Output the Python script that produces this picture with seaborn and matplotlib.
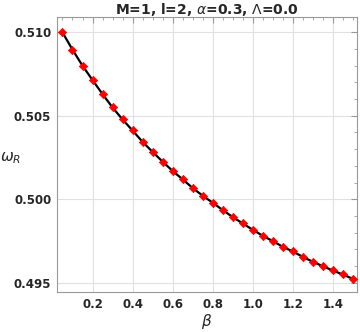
import numpy as np
import matplotlib
matplotlib.use("Agg")
import matplotlib.pyplot as plt
import seaborn as sns
from matplotlib.ticker import MultipleLocator, FormatStrFormatter

# Data
beta = [0.05, 0.10, 0.15, 0.20, 0.25, 0.30, 0.35, 0.40, 0.45, 0.50,
        0.55, 0.60, 0.65, 0.70, 0.75, 0.80, 0.85, 0.90, 0.95, 1.00,
        1.05, 1.10, 1.15, 1.20, 1.25, 1.30, 1.35, 1.40, 1.45, 1.50]
omega_R = [0.50999, 0.50896, 0.50800, 0.50714, 0.50630, 0.50550, 0.50478, 0.50412, 0.50344, 0.50284,
           0.50226, 0.50170, 0.50120, 0.50068, 0.50022, 0.49980, 0.49936, 0.49894, 0.49856, 0.49818,
           0.49782, 0.49750, 0.49716, 0.49688, 0.49656, 0.49626, 0.49600, 0.49574, 0.49550, 0.49524]

sns.set_style("white")
plt.rcParams['font.family'] = ['DejaVu Sans']

fig, ax = plt.subplots(figsize=(3.6, 3.32), dpi=100)
fig.subplots_adjust(left=0.158, right=0.992, top=0.948, bottom=0.12)

sns.lineplot(x=beta, y=omega_R, ax=ax, color='black', linewidth=1.6, zorder=2)
sns.scatterplot(x=beta, y=omega_R, ax=ax, color='red', marker='D', s=18,
                edgecolor='red', linewidth=0.5, zorder=3)

ax.set_xlim(0.022, 1.522)
ax.set_ylim(0.49444, 0.5109)
ax.xaxis.set_major_locator(MultipleLocator(0.2))
ax.xaxis.set_minor_locator(MultipleLocator(0.05))
ax.yaxis.set_major_locator(MultipleLocator(0.005))
ax.yaxis.set_minor_locator(MultipleLocator(0.001))
ax.xaxis.set_major_formatter(FormatStrFormatter('%.1f'))
ax.yaxis.set_major_formatter(FormatStrFormatter('%.3f'))

ax.grid(True, which='major', color='#e0e0e0', linewidth=0.8)
ax.set_axisbelow(True)
for s in ax.spines.values():
    s.set_color('#999999')
    s.set_linewidth(0.8)
ax.tick_params(which='both', direction='in', top=True, right=True, color='#999999')
ax.tick_params(which='major', length=4, width=0.8, labelsize=8.5, pad=4)
ax.tick_params(which='minor', length=2, width=0.6)
for lab in ax.get_xticklabels() + ax.get_yticklabels():
    lab.set_fontweight('bold')

ax.set_title(r'M=1, l=2, $\alpha$=0.3, $\Lambda$=0.0', fontsize=10, fontweight='bold', pad=2)
ax.set_xlabel(r'$\beta$', fontsize=11)
ax.set_ylabel(r'$\omega_R$', fontsize=11, rotation=0)
ax.xaxis.set_label_coords(0.5, -0.072)
ax.yaxis.set_label_coords(-0.155, 0.46)

plt.savefig("out.png", dpi=100)
plt.close()
